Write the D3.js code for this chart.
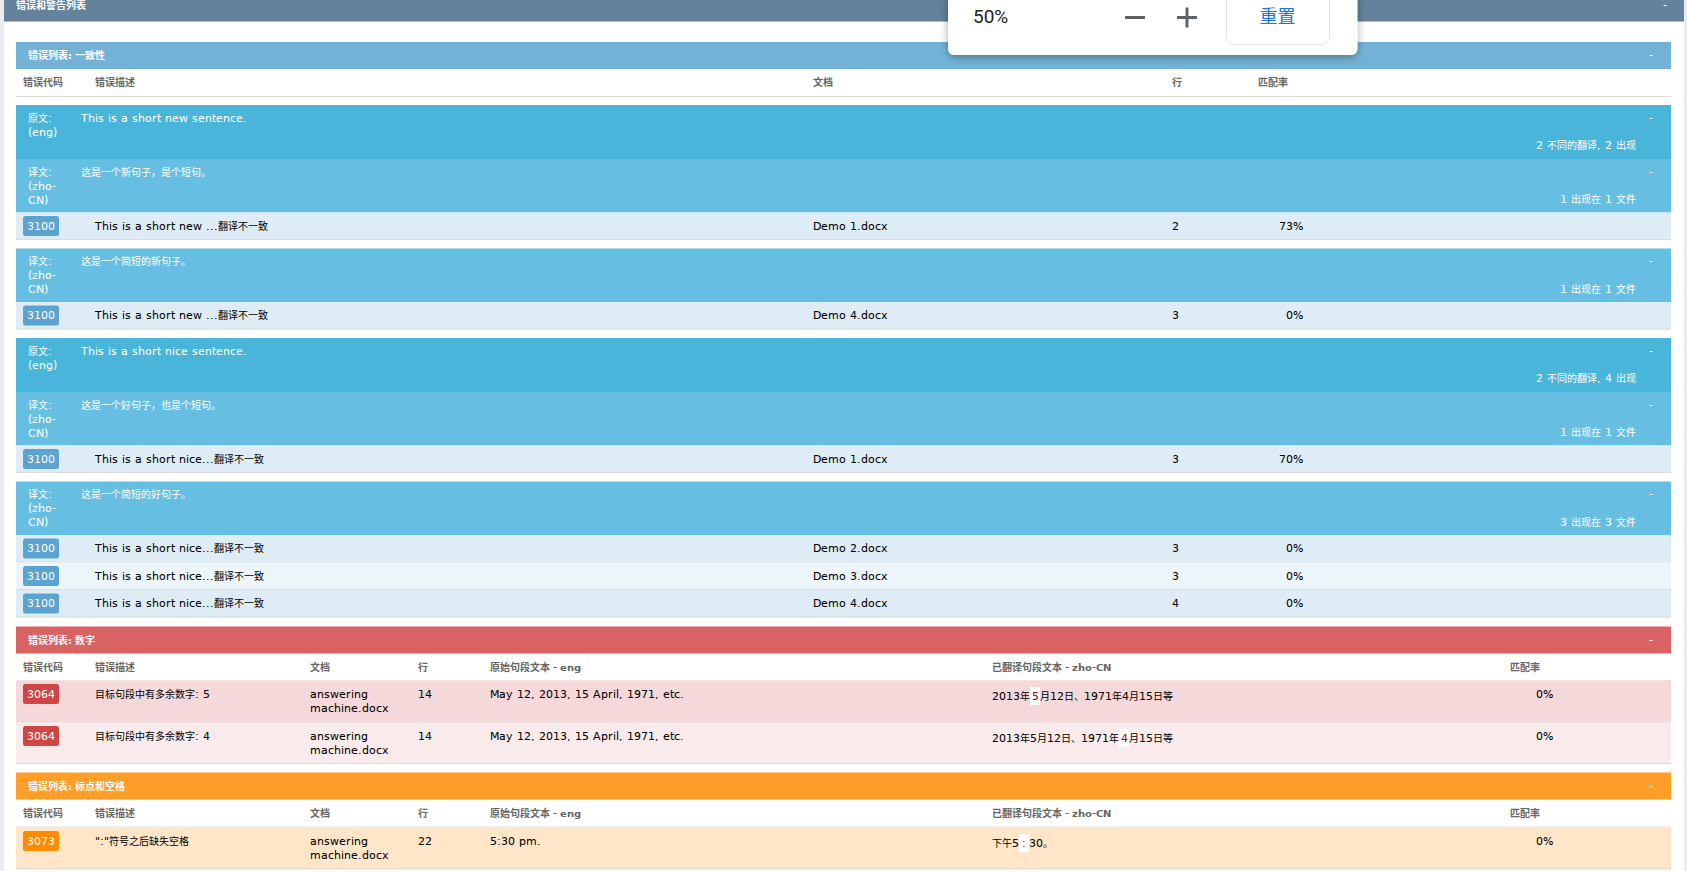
<!DOCTYPE html>
<html>
<head>
<meta charset="utf-8">
<title>错误和警告列表</title>
<script src="https://cdn.jsdelivr.net/npm/d3@7/dist/d3.min.js"></script>
<style>
    /* latin glyphs run wider than the cjk ones in this report */
    @font-face { font-family: "ReportLatin"; src: local("DejaVu Sans"); font-weight: normal; unicode-range: U+0020-024F; size-adjust: 108%; }
    @font-face { font-family: "ReportLatin"; src: local("DejaVu Sans Bold"); font-weight: bold; unicode-range: U+0020-024F; }
    html, body { margin: 0; padding: 0; background: #fff; overflow: hidden; }
    text { font-family: "ReportLatin", "DejaVu Sans", "Noto Sans CJK SC", sans-serif; font-size: 10px; }
</style>
</head>
<body>
<script>
//page title and section titles
var pageTitle = "错误和警告列表";
var consistencyTitle = "错误列表: 一致性";
var numbersTitle = "错误列表: 数字";
var punctuationTitle = "错误列表: 标点和空格";

//column headings
var shortHeadings = ["错误代码", "错误描述", "文档", "行", "匹配率"];
var longHeadings = ["错误代码", "错误描述", "文档", "行", "原始句段文本 - eng", "已翻译句段文本 - zho-CN", "匹配率"];

//consistency section, read top to bottom
var blockKinds = ["source", "target", "row", "gap", "target", "row", "gap",
    "source", "target", "row", "gap", "target", "row", "row", "row"];
var blockLabels = ["原文:|(eng)", "译文:|(zho-|CN)", "", "", "译文:|(zho-|CN)", "", "",
    "原文:|(eng)", "译文:|(zho-|CN)", "", "", "译文:|(zho-|CN)", "", "", ""];
var blockTexts = ["This is a short new sentence.", "这是一个新句子，是个短句。", "", "", "这是一个简短的新句子。", "", "",
    "This is a short nice sentence.", "这是一个好句子，也是个短句。", "", "", "这是一个简短的好句子。", "", "", ""];
var blockCounts = ["2 不同的翻译, 2 出现", "1 出现在 1 文件", "", "", "1 出现在 1 文件", "", "",
    "2 不同的翻译, 4 出现", "1 出现在 1 文件", "", "", "3 出现在 3 文件", "", "", ""];
var rowCodes = ["3100", "3100", "3100", "3100", "3100", "3100"];
var rowDescs = ["This is a short new ...翻译不一致", "This is a short new ...翻译不一致", "This is a short nice...翻译不一致",
    "This is a short nice...翻译不一致", "This is a short nice...翻译不一致", "This is a short nice...翻译不一致"];
var rowDocs = ["Demo 1.docx", "Demo 4.docx", "Demo 1.docx", "Demo 2.docx", "Demo 3.docx", "Demo 4.docx"];
var rowLines = ["2", "3", "3", "3", "3", "4"];
var rowMatches = ["73%", "0%", "70%", "0%", "0%", "0%"];

//numbers section
var numberCodes = ["3064", "3064"];
var numberDescs = ["目标句段中有多余数字:  5", "目标句段中有多余数字:  4"];
var numberLines = ["14", "14"];
var numberSources = ["May 12, 2013, 15 April, 1971, etc.", "May 12, 2013, 15 April, 1971, etc."];
var numberTargets = [["2013年", "5", "月12日、1971年4月15日等"], ["2013年5月12日、1971年", "4", "月15日等"]];
var numberMatches = ["0%", "0%"];

//punctuation section
var punctCodes = ["3073"];
var punctDescs = ["\":\"符号之后缺失空格"];
var punctLines = ["22"];
var punctSources = ["5:30 pm."];
var punctTargets = [["下午5", ":", "30。"]];
var punctMatches = ["0%"];

//file name shared by the last two sections
var answerDoc = ["answering", "machine.docx"];

//zoom popup
var zoomLevel = "50%";
var zoomReset = "重置";

var width = 1687,
    height = 871;

var svg = d3.select("body")
    .append("svg")
    .attr("class", "page")
    .attr("width", width)
    .attr("height", height);

//column positions
var shortCol = d3.scaleOrdinal(d3.range(5), [23, 95, 813, 1172, 1258]);
var longCol = d3.scaleOrdinal(d3.range(7), [23, 95, 310, 418, 490, 992, 1510]);
var blockHeight = d3.scaleOrdinal(["source", "target", "row", "gap"], [54, 53.5, 27.5, 8.5]);
var blockFill = d3.scaleOrdinal(["source", "target"], ["#4ab5da", "#66bfe2"]);

var left = 16,
    right = 1671,
    barHeight = 27;

//grey page edges and the panel heading
svg.append("rect").attr("width", width).attr("height", height).attr("fill", "#e9ecf1");
svg.append("rect").attr("x", 4).attr("width", 1680).attr("height", height).attr("fill", "#fff");
svg.append("rect").attr("x", 4).attr("width", 1680).attr("height", 21).attr("fill", "#64829b");
svg.append("rect").attr("x", 4).attr("y", 21).attr("width", 1680).attr("height", 1).attr("fill", "#a9b8c5");
label(16, 5.5, pageTitle, "#fff", "bold");
label(1663, 5.5, "-", "#fff");

//draw a text line vertically centred on y
function label(x, y, str, color, weight, anchor) {
    return svg.append("text")
        .attr("x", x)
        .attr("y", y)
        .attr("dy", "0.36em")
        .attr("fill", color)
        .attr("font-weight", weight || null)
        .attr("text-anchor", anchor || "start")
        .text(str);
}

function stack(x, y, lines, color) {
    lines.forEach(function(line, i) {
        label(x, y + i * 14, line, color);
    });
}

function sectionBar(y, title, color) {
    svg.append("rect").attr("x", left).attr("y", y).attr("width", right - left).attr("height", barHeight).attr("fill", color);
    label(28, y + 13.5, title, "#fff", "bold");
    label(1649, y + 13.5, "-", "#fff");
}

function headings(y, names, col) {
    names.forEach(function(name, i) {
        label(col(i), y + 13.5, name, "#666", "bold");
    });
    svg.append("line")
        .attr("x1", left).attr("x2", right)
        .attr("y1", y + 27.5).attr("y2", y + 27.5)
        .attr("stroke", "#dcdcdc");
}

function rowBand(y, h, fill) {
    svg.append("rect").attr("x", left).attr("y", y).attr("width", right - left).attr("height", h).attr("fill", fill);
    svg.append("line")
        .attr("x1", left).attr("x2", right)
        .attr("y1", y + h - 0.5).attr("y2", y + h - 0.5)
        .attr("stroke", "#d9dcde");
}

function badge(y, code, fill) {
    svg.append("rect")
        .attr("x", 23).attr("y", y).attr("width", 36).attr("height", 20).attr("rx", 2.5)
        .attr("fill", fill);
    label(41, y + 10, code, "#fff", null, "middle");
}

//target text with the flagged character on a white patch
function flagged(x, y, parts) {
    var node = svg.append("text").attr("x", x).attr("y", y).attr("dy", "0.36em").attr("fill", "#000");
    var spans = node.selectAll("tspan")
        .data(parts)
        .enter()
        .append("tspan")
        .attr("fill", function(d, i) { return i == 1 ? "#b00020" : "#000"; })
        .text(function(d) { return d; });
    var t = node.node();
    var at = parts[0].length;
    //pad the flagged glyph so its patch is always about 10px wide
    var glyph = t.getEndPositionOfChar(at).x - t.getStartPositionOfChar(at).x;
    var pad = Math.max(1, (10 - glyph) / 2);
    spans.attr("dx", function(d, i) { return i == 0 ? null : pad; });
    var start = t.getStartPositionOfChar(at).x;
    var end = t.getEndPositionOfChar(at).x;
    svg.insert("rect", function() { return t; })
        .attr("x", start - pad).attr("y", y - 9).attr("width", end - start + 2 * pad).attr("height", 18)
        .attr("fill", "#fff");
}

//consistency section
sectionBar(42, consistencyTitle, "#73b2d6");
headings(69, shortHeadings, shortCol);

var blockTops = [105].concat(Array.from(d3.cumsum(blockKinds, blockHeight)).map(function(h) { return 105 + h; }));
var rowIndex = 0;
blockKinds.forEach(function(kind, i) {
    var y = blockTops[i];
    if (kind == "gap") return;
    if (kind == "row") {
        var r = rowIndex++;
        rowBand(y, blockHeight(kind), r == 4 ? "#ecf5f9" : "#deedf5");
        badge(y + 3.5, rowCodes[r], "#5ba3d0");
        label(shortCol(1), y + 13.5, rowDescs[r], "#000");
        label(shortCol(2), y + 13.5, rowDocs[r], "#000");
        label(shortCol(3), y + 13.5, rowLines[r], "#000");
        label(1303, y + 13.5, rowMatches[r], "#000", null, "end");
        return;
    }
    svg.append("rect").attr("x", left).attr("y", y).attr("width", right - left).attr("height", blockHeight(kind)).attr("fill", blockFill(kind));
    stack(28, y + 13, blockLabels[i].split("|"), "#fff");
    label(81, y + 13, blockTexts[i], "#fff");
    label(1649, y + 13, "-", "#fff");
    label(1636, y + 40.5, blockCounts[i], "#fff", null, "end");
});

//rows of the two lower sections
function detailRow(y, h, fill, badgeFill, code, desc, line, source, target, match) {
    rowBand(y, h, fill);
    badge(y + 3.5, code, badgeFill);
    label(longCol(1), y + 13.5, desc, "#000");
    stack(longCol(2), y + 13.5, answerDoc, "#000");
    label(longCol(3), y + 13.5, line, "#000");
    label(longCol(4), y + 13.5, source, "#000");
    flagged(longCol(5), y + 15.5, target);
    label(1553, y + 13.5, match, "#000", null, "end");
}

//numbers section
sectionBar(626.5, numbersTitle, "#d96363");
headings(653.5, longHeadings, longCol);
var numberFills = ["#f5d8da", "#f9ebec"];
var numberHeights = [42, 41.5];
var numberTops = [680.5, 722.5];
numberCodes.forEach(function(code, i) {
    detailRow(numberTops[i], numberHeights[i], numberFills[i], "#d04545", code, numberDescs[i],
        numberLines[i], numberSources[i], numberTargets[i], numberMatches[i]);
});

//punctuation section
sectionBar(772.5, punctuationTitle, "#ff9e28");
headings(799.5, longHeadings, longCol);
svg.append("rect").attr("x", left).attr("y", 868.5).attr("width", right - left).attr("height", 3).attr("fill", "#fff3e3");
punctCodes.forEach(function(code, i) {
    detailRow(827.5, 41.5, "#ffe6c8", "#ff8c00", code, punctDescs[i],
        punctLines[i], punctSources[i], punctTargets[i], punctMatches[i]);
});

//zoom popup over the top of the page
var defs = svg.append("defs");
var shadow = defs.append("filter").attr("id", "popupShadow").attr("x", "-10%").attr("y", "-30%").attr("width", "120%").attr("height", "170%");
shadow.append("feDropShadow").attr("dx", 0).attr("dy", 2).attr("stdDeviation", 4).attr("flood-color", "#000").attr("flood-opacity", 0.35);

svg.append("rect")
    .attr("x", 948).attr("y", -10).attr("width", 409.5).attr("height", 65).attr("rx", 6)
    .attr("fill", "#fff")
    .attr("filter", "url(#popupShadow)");
svg.append("rect")
    .attr("x", 1226.5).attr("y", -10).attr("width", 103).attr("height", 54.5).attr("rx", 8)
    .attr("fill", "#fff")
    .attr("stroke", "#e3e3e3");
label(973, 16.5, zoomLevel, "#222").style("font-family", "Roboto, sans-serif").style("font-size", "19px");
svg.append("line").attr("x1", 1125).attr("x2", 1145).attr("y1", 17.5).attr("y2", 17.5).attr("stroke", "#5f6368").attr("stroke-width", 3);
svg.append("line").attr("x1", 1177).attr("x2", 1197).attr("y1", 17.5).attr("y2", 17.5).attr("stroke", "#5f6368").attr("stroke-width", 3);
svg.append("line").attr("x1", 1187).attr("x2", 1187).attr("y1", 7.5).attr("y2", 27.5).attr("stroke", "#5f6368").attr("stroke-width", 3);
label(1277.5, 17, zoomReset, "#1a73e8", null, "middle").style("font-family", "'Noto Sans CJK SC', sans-serif").style("font-size", "18px");
</script>
</body>
</html>
